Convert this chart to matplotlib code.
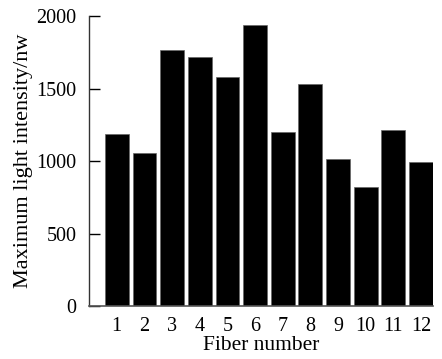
import matplotlib
matplotlib.use("Agg")
import matplotlib.pyplot as plt

fibers = [1, 2, 3, 4, 5, 6, 7, 8, 9, 10, 11, 12]
intensity = [1188, 1053, 1766, 1715, 1582, 1938, 1200, 1531, 1016, 819, 1212, 993]

plt.rcParams['font.family'] = ['Liberation Serif', 'DejaVu Serif']

fig = plt.figure(figsize=(4.42, 3.59), dpi=100)
ax = fig.add_axes([0.201, 0.1476, 0.779, 0.8078])

ax.bar(fibers, intensity, width=0.86, color='black', edgecolor='#666666', linewidth=0.5)

ax.set_xlim(-0.01, 12.44)
ax.set_ylim(0, 2000)
ax.set_yticks([0, 500, 1000, 1500, 2000])
ax.set_xticks(fibers)

ax.spines['top'].set_visible(False)
ax.spines['right'].set_visible(False)
ax.spines['left'].set_color('#333333')
ax.spines['bottom'].set_color('#555555')
ax.spines['left'].set_linewidth(1.0)
ax.spines['bottom'].set_linewidth(1.2)

ax.tick_params(axis='y', direction='in', length=8, width=1.0, labelsize=14.5, pad=9)
ax.tick_params(axis='x', length=0, labelsize=14.5, pad=8)

ax.set_xlabel("Fiber number", fontsize=15.5, labelpad=0)
ax.set_ylabel("Maximum light intensity/nw", fontsize=16, labelpad=2)

fig.savefig("out.png", dpi=100)
